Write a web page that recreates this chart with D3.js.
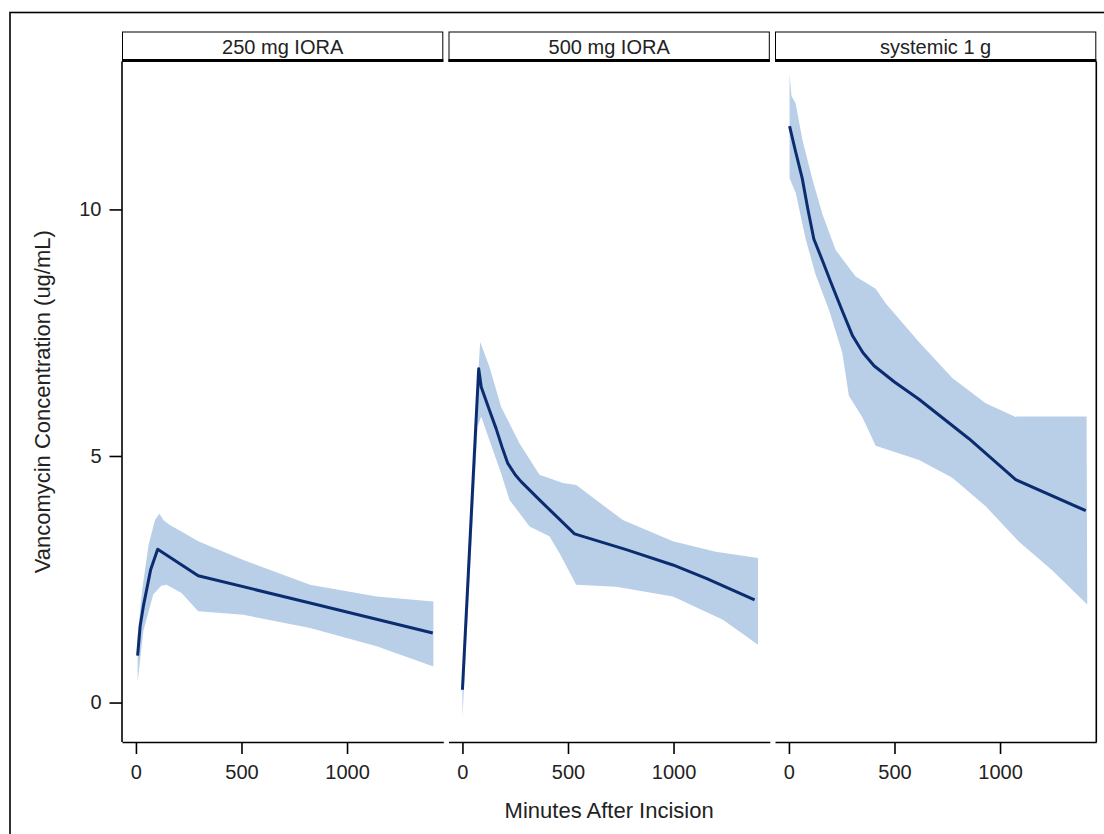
<!DOCTYPE html>
<html>
<head>
<meta charset="utf-8">
<script src="https://cdn.jsdelivr.net/npm/d3@7"></script>
<style>
  html, body { margin: 0; padding: 0; background: #fff; }
  svg text { font-family: "Liberation Sans", Arial, sans-serif; fill: #222; }
</style>
</head>
<body>
<svg id="chart" width="1104" height="834"></svg>
<script>
// ---------- data ----------
const panels = ["250 mg IORA", "500 mg IORA", "systemic 1 g"];
const xTicks = [0, 500, 1000];
const yTicks = [0, 5, 10];

// 250 mg IORA
const mean250T = [8, 20, 35, 70, 103, 295, 825, 1406];
const mean250V = [0.95, 1.55, 1.95, 2.7, 3.11, 2.57, 2.02, 1.41];
const upper250T = [8, 30, 60, 90, 111, 130, 160, 216, 295, 509, 825, 1140, 1409];
const upper250V = [1.35, 2.3, 3.2, 3.7, 3.83, 3.7, 3.6, 3.47, 3.27, 2.89, 2.39, 2.15, 2.05];
const lower250T = [8, 35, 82, 120, 145, 216, 295, 509, 825, 1140, 1409];
const lower250V = [0.41, 1.45, 2.19, 2.37, 2.39, 2.22, 1.85, 1.78, 1.51, 1.14, 0.73];

// 500 mg IORA
const mean500T = [0, 77, 89, 128, 160, 190, 215, 250, 278, 365, 531, 776, 997, 1155, 1384];
const mean500V = [0.26, 6.77, 6.4, 5.93, 5.55, 5.15, 4.85, 4.62, 4.48, 4.11, 3.42, 3.10, 2.79, 2.52, 2.08];
const upper500T = [0, 40, 84, 128, 183, 270, 365, 476, 539, 760, 997, 1200, 1400];
const upper500V = [0.4, 4.1, 7.31, 6.81, 6.0, 5.26, 4.62, 4.45, 4.41, 3.70, 3.27, 3.06, 2.93];
const lower500T = [0, 40, 72, 89, 128, 183, 223, 318, 412, 460, 539, 728, 997, 1234, 1400];
const lower500V = [-0.31, 3.0, 5.6, 5.8, 5.32, 4.65, 4.11, 3.57, 3.37, 3.03, 2.39, 2.35, 2.15, 1.68, 1.17];

// systemic 1 g
const meanSysT = [3, 30, 63, 90, 118, 160, 198, 250, 300, 350, 403, 500, 616, 853, 1074, 1406];
const meanSysV = [11.69, 11.2, 10.63, 10.0, 9.40, 8.95, 8.53, 7.97, 7.45, 7.1, 6.83, 6.5, 6.15, 5.35, 4.52, 3.89];
const upperSysT = [3, 12, 32, 63, 110, 158, 221, 316, 411, 458, 616, 774, 932, 1074, 1080, 1410];
const upperSysV = [12.75, 12.3, 12.15, 11.43, 10.63, 9.91, 9.18, 8.64, 8.39, 8.10, 7.31, 6.58, 6.07, 5.79, 5.80, 5.80];
const lowerSysT = [3, 32, 79, 126, 190, 253, 284, 347, 411, 616, 774, 932, 1090, 1248, 1413];
const lowerSysV = [10.63, 10.34, 9.40, 8.68, 7.96, 7.09, 6.22, 5.79, 5.21, 4.92, 4.56, 3.98, 3.26, 2.68, 1.99];

const series = [
  {mT: mean250T, mV: mean250V, uT: upper250T, uV: upper250V, lT: lower250T, lV: lower250V},
  {mT: mean500T, mV: mean500V, uT: upper500T, uV: upper500V, lT: lower500T, lV: lower500V},
  {mT: meanSysT, mV: meanSysV, uT: upperSysT, uV: upperSysV, lT: lowerSysT, lV: lowerSysV}
];

// ---------- layout ----------
const svg = d3.select("#chart");
const panelLeft = [122, 448.5, 775];
const panelW = 321.3;
const plotTop = 61.5, plotBottom = 742;
const headerTop = 32;

const x = d3.scaleLinear().domain([-66, 1456]).range([0, panelW]);
const y = d3.scaleLinear().domain([-0.8, 13.0]).range([plotBottom, plotTop]);

const lineColor = "#0b2d70";
const bandColor = "#b9cfe8";

// outer border
svg.append("rect").attr("x", 10).attr("y", 12.5).attr("width", 1110).attr("height", 840)
  .attr("fill", "none").attr("stroke", "#000").attr("stroke-width", 1.6);

function bandPoints(s) {
  const up = s.uT.map((t, i) => [t, s.uV[i]]);
  const lo = s.lT.map((t, i) => [t, s.lV[i]]).reverse();
  return up.concat(lo);
}

panels.forEach((name, i) => {
  const g = svg.append("g").attr("transform", `translate(${panelLeft[i]},0)`);
  const s = series[i];

  g.append("path")
    .attr("d", d3.line().x(d => x(d[0])).y(d => y(d[1]))(bandPoints(s)) + "Z")
    .attr("fill", bandColor).attr("stroke", "none");

  const pts = s.mT.map((t, k) => [t, s.mV[k]]);
  g.append("path")
    .attr("d", d3.line().x(d => x(d[0])).y(d => y(d[1]))(pts))
    .attr("fill", "none").attr("stroke", lineColor).attr("stroke-width", 3)
    .attr("stroke-linejoin", "round");

  g.append("rect").attr("x", 0.5).attr("y", headerTop).attr("width", panelW - 1)
    .attr("height", plotTop - headerTop).attr("fill", "#fff")
    .attr("stroke", "#000").attr("stroke-width", 1);
  g.append("line").attr("x1", 0).attr("x2", panelW).attr("y1", 60.5).attr("y2", 60.5)
    .attr("stroke", "#000").attr("stroke-width", 3);
  g.append("text").attr("x", panelW / 2).attr("y", 53.5)
    .attr("text-anchor", "middle").attr("font-size", 20).text(name);

  const ax = g.append("g").attr("transform", `translate(0,${plotBottom})`)
    .call(d3.axisBottom(x).tickValues(xTicks).tickFormat(d3.format("d"))
      .tickSize(12).tickPadding(11).tickSizeOuter(0));
  ax.select(".domain").attr("stroke", "#000").attr("stroke-width", 1.6);
  ax.selectAll(".tick line").attr("stroke", "#000").attr("stroke-width", 1.6);
  ax.selectAll(".tick text").attr("font-size", 20).attr("fill", "#222")
    .attr("font-family", "Liberation Sans, Arial, sans-serif");

  if (i === 0) {
    const ay = g.append("g")
      .call(d3.axisLeft(y).tickValues(yTicks).tickSize(12.5).tickPadding(8).tickSizeOuter(0));
    ay.select(".domain").attr("d", `M0,${plotTop}V${plotBottom}`)
      .attr("stroke", "#000").attr("stroke-width", 1.6);
    ay.selectAll(".tick line").attr("stroke", "#000").attr("stroke-width", 1.6);
    ay.selectAll(".tick text").attr("font-size", 20).attr("fill", "#222")
      .attr("font-family", "Liberation Sans, Arial, sans-serif");
  }
  if (i === panels.length - 1) {
    g.append("line").attr("x1", panelW).attr("x2", panelW)
      .attr("y1", plotTop).attr("y2", plotBottom)
      .attr("stroke", "#000").attr("stroke-width", 1.6);
  }
});

svg.append("text").attr("x", (panelLeft[0] + panelLeft[2] + panelW) / 2).attr("y", 818)
  .attr("text-anchor", "middle").attr("font-size", 22).text("Minutes After Incision");
svg.append("text")
  .attr("transform", `translate(50,${(plotTop + plotBottom) / 2}) rotate(-90)`)
  .attr("text-anchor", "middle").attr("font-size", 22)
  .text("Vancomycin Concentration (ug/mL)");
</script>
</body>
</html>
